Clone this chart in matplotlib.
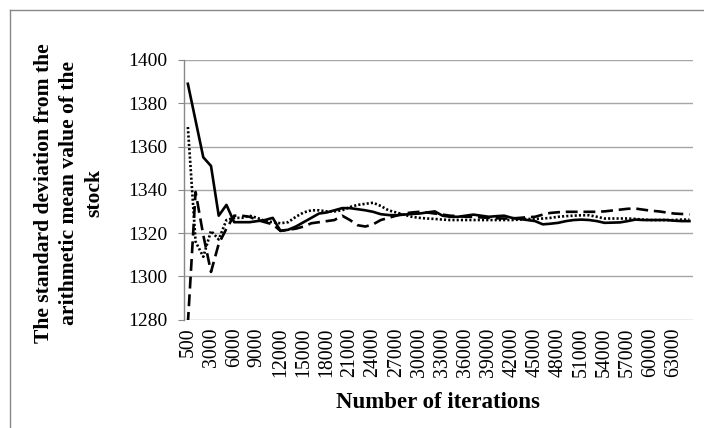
import matplotlib
matplotlib.use("Agg")
import matplotlib.pyplot as plt
from matplotlib.lines import Line2D
import numpy as np

# categories: 500, then every 1000 up to 65000
iterations = [500] + list(range(1000, 65001, 1000))

solid = [1389, 1372, 1355, 1351, 1328, 1333, 1325, 1325, 1325, 1325.5,
         1326, 1327, 1321, 1321.5, 1323, 1325, 1327, 1329, 1329.5, 1330.5,
         1331.5, 1331.5, 1331, 1330.5, 1329.8, 1328.7, 1328.3, 1328.2, 1328.5, 1328.8,
         1329, 1329.5, 1330, 1328, 1327.5, 1327.5, 1328, 1328.5, 1328, 1327.5,
         1327.8, 1328, 1327, 1326.5, 1326, 1325.5, 1324, 1324.3, 1324.7, 1325.5,
         1326, 1326.2, 1326, 1325.5, 1324.7, 1324.8, 1324.9, 1325.5, 1326.2, 1326,
         1326, 1326, 1326, 1325.7, 1325.5, 1325.5]

dotted = [1369, 1316, 1309, 1321, 1317, 1326, 1327, 1327, 1328, 1327,
          1325.5, 1325, 1324.5, 1325, 1327.5, 1329.5, 1330.5, 1330.5, 1330, 1330,
          1330.5, 1332, 1333, 1333.5, 1334, 1332.5, 1330.5, 1329.5, 1328.5, 1327.5,
          1327, 1326.7, 1326.5, 1326.2, 1326, 1326, 1326, 1326, 1326, 1326,
          1326, 1326, 1326, 1326.2, 1326.5, 1326.5, 1326.7, 1327, 1327.5, 1327.8,
          1328, 1328.2, 1328.2, 1327.5, 1326.7, 1326.7, 1326.7, 1326.7, 1326.5, 1326.2,
          1326, 1326, 1326, 1326, 1326.2, 1326.2]

dashed = [1278, 1339, 1319, 1302, 1315, 1322, 1328, 1328, 1327.5, 1326,
          1325, 1324, 1321, 1321.5, 1322, 1323, 1324.5, 1325, 1325.5, 1326,
          1328, 1326, 1323.6, 1323, 1324, 1326, 1327, 1328, 1329, 1329.5,
          1329.8, 1329.5, 1329, 1328.5, 1328, 1327.8, 1327.5, 1327.5, 1327.2, 1327,
          1326.8, 1326.7, 1326.7, 1327, 1327.3, 1327.5, 1328.5, 1329.3, 1329.6, 1329.8,
          1329.8, 1329.8, 1329.8, 1329.8, 1330, 1330.4, 1330.8, 1331.2, 1331.3, 1330.8,
          1330.3, 1330, 1329.5, 1329, 1328.8, 1328.6]

y_ticks = [1280, 1300, 1320, 1340, 1360, 1380, 1400]
x_tick_step = 3

serif = ["Liberation Serif", "DejaVu Serif"]
plt.rcParams["font.family"] = serif

W, H = 704, 428
fig = plt.figure(figsize=(W / 100, H / 100), dpi=100)
ax = fig.add_axes([184 / W, 1 - 319.5 / H, (693.3 - 184) / W, (319.5 - 60) / H])

x = np.arange(len(iterations))
ax.plot(x, solid, color="black", lw=1.9, solid_joinstyle="round", zorder=3)
ax.plot(x, dotted, color="black", lw=1.9, linestyle=(0, (0.8, 0.8)),
        dash_capstyle="butt", zorder=3)
ax.plot(x, dashed, color="black", lw=1.9, linestyle=(0, (4.5, 2.2)), zorder=3)

ax.set_xlim(-0.5, len(iterations) - 0.5)
ax.set_ylim(1280, 1400)
ax.set_yticks(y_ticks)
ax.set_yticklabels([str(v) for v in y_ticks], fontsize=14)
ticks = x[::x_tick_step]
ax.set_xticks(ticks)
ax.set_xticklabels([str(iterations[i]) for i in ticks], rotation=90, fontsize=14.3)
ax.tick_params(axis="x", length=0, pad=6)
ax.tick_params(axis="y", length=4, color="#888888", pad=8)

ax.grid(axis="y", color="#a6a6a6", lw=1)
ax.set_axisbelow(True)
for s in ["top", "right", "bottom"]:
    ax.spines[s].set_visible(False)
ax.spines["left"].set_color("#888888")
ax.spines["left"].set_linewidth(1)

fig.text(438 / W, 1 - 402 / H, "Number of iterations", ha="center", va="center",
         fontsize=16.5, fontweight="bold")
fig.text(69 / W, 1 - 193 / H,
         "The standard deviation from the\narithmetic mean value of the\nstock",
         rotation=90, ha="center", va="center", fontsize=15.6, fontweight="bold",
         linespacing=1.35, multialignment="center")

# outer chart border
fig.add_artist(Line2D([9.5 / W, 9.5 / W], [0, 1 - 10 / H], color="#888888", lw=1))
fig.add_artist(Line2D([9.5 / W, 1], [1 - 10 / H, 1 - 10 / H], color="#888888", lw=1))

fig.savefig("out.png", dpi=100)
